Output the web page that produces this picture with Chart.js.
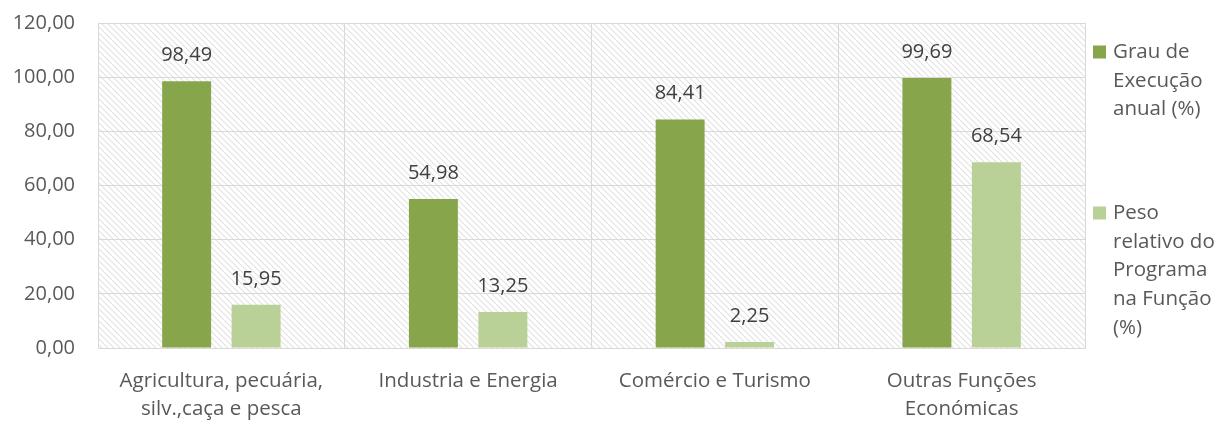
<!DOCTYPE html>
<html>
<head>
<meta charset="utf-8">
<script src="https://cdn.jsdelivr.net/npm/chart.js@4.4.1/dist/chart.umd.min.js"></script>
<style>
  html, body { margin: 0; padding: 0; background: #fff; }
  #wrap { width: 1232px; height: 424px; position: relative; }
</style>
</head>
<body>
<div id="wrap"><canvas id="grauChart" width="1232" height="424"></canvas></div>
<script>
const categorias = [
    ["Agricultura, pecuária,", "silv.,caça e pesca"],
    "Industria e Energia",
    "Comércio e Turismo",
    ["Outras Funções", "Económicas"],
];
const grauExecucao = [98.49, 54.98, 84.41, 99.69];
const pesoRelativo = [15.95, 13.25, 2.25, 68.54];
const legendaGrau = ["Grau de", "Execução", "anual (%)"];
const legendaPeso = ["Peso", "relativo do", "Programa", "na Função", "(%)"];

const FONT = "'Open Sans', Lato, sans-serif";
const fmt = (v) => v.toFixed(2).replace(".", ",");

// diagonal hatch behind the plot area
function makeHatch() {
    const c = document.createElement("canvas");
    c.width = 6;
    c.height = 6;
    const g = c.getContext("2d");
    g.fillStyle = "#ffffff";
    g.fillRect(0, 0, 6, 6);
    g.strokeStyle = "#e2e2e2";
    g.lineWidth = 1.1;
    g.beginPath();
    g.moveTo(-1, -1);
    g.lineTo(7, 7);
    g.moveTo(-4, 2);
    g.lineTo(4, 10);
    g.moveTo(2, -4);
    g.lineTo(10, 4);
    g.stroke();
    return g.createPattern(c, "repeat");
}

const hatchPlugin = {
    id: "hatch",
    beforeDraw(chart) {
        const { ctx, chartArea: a } = chart;
        ctx.save();
        ctx.fillStyle = makeHatch();
        ctx.fillRect(a.left, a.top, a.right - a.left, a.bottom - a.top);
        ctx.restore();
    },
};

const valueLabels = {
    id: "valueLabels",
    afterDatasetsDraw(chart) {
        const ctx = chart.ctx;
        ctx.save();
        ctx.font = "20px " + FONT;
        ctx.fillStyle = "#404040";
        ctx.textAlign = "center";
        ctx.textBaseline = "middle";
        chart.data.datasets.forEach((ds, i) => {
            chart.getDatasetMeta(i).data.forEach((bar, j) => {
                ctx.fillText(fmt(ds.data[j]), bar.x, bar.y - 26);
            });
        });
        ctx.restore();
    },
};

const sideLegend = {
    id: "sideLegend",
    afterDraw(chart) {
        const ctx = chart.ctx;
        const items = [
            { color: chart.data.datasets[0].backgroundColor, lines: legendaGrau, y: 52 },
            { color: chart.data.datasets[1].backgroundColor, lines: legendaPeso, y: 213 },
        ];
        ctx.save();
        ctx.font = "20.5px " + FONT;
        ctx.textAlign = "left";
        ctx.textBaseline = "middle";
        items.forEach((it) => {
            ctx.fillStyle = it.color;
            ctx.fillRect(1093, it.y - 6.5, 13, 13);
            ctx.fillStyle = "#595959";
            it.lines.forEach((t, k) => ctx.fillText(t, 1113, it.y + k * 28.7));
        });
        ctx.restore();
    },
};

new Chart(document.getElementById("grauChart"), {
    type: "bar",
    data: {
        labels: categorias,
        datasets: [
            {
                label: legendaGrau.join(" "),
                data: grauExecucao,
                backgroundColor: "#87a64b",
                categoryPercentage: 0.563,
                barPercentage: 0.705,
            },
            {
                label: legendaPeso.join(" "),
                data: pesoRelativo,
                backgroundColor: "#b9d097",
                categoryPercentage: 0.563,
                barPercentage: 0.705,
            },
        ],
    },
    options: {
        responsive: false,
        animation: false,
        devicePixelRatio: 1,
        layout: { padding: { top: 23, right: 147, bottom: 0, left: 0 } },
        plugins: {
            legend: { display: false },
            tooltip: { enabled: false },
        },
        scales: {
            x: {
                grid: { color: "#d9d9d9", lineWidth: 1, offset: true, drawTicks: false },
                border: { color: "#d9d9d9", width: 1 },
                ticks: {
                    color: "#595959",
                    font: { family: FONT, size: 20.5, lineHeight: 1.37 },
                    padding: 19,
                    maxRotation: 0,
                },
                afterFit(scale) {
                    scale.height = 76;
                    scale.paddingLeft = 0;
                    scale.paddingRight = 0;
                },
            },
            y: {
                min: 0,
                max: 120,
                grid: { color: "#d9d9d9", lineWidth: 1, drawTicks: false },
                border: { color: "#d9d9d9", width: 1 },
                ticks: {
                    stepSize: 20,
                    color: "#595959",
                    font: { family: FONT, size: 20 },
                    padding: 23,
                    callback: (v) => fmt(v),
                },
                afterFit(scale) {
                    scale.width = 98;
                    scale.paddingTop = 0;
                    scale.paddingBottom = 0;
                },
            },
        },
    },
    plugins: [hatchPlugin, valueLabels, sideLegend],
});
</script>
</body>
</html>
